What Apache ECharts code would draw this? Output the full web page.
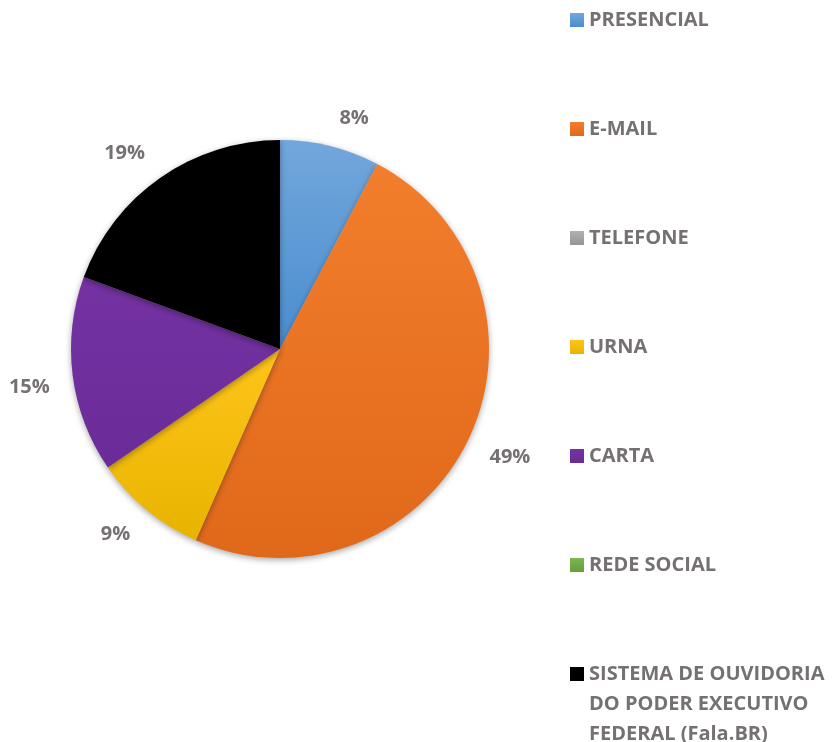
<!DOCTYPE html>
<html>
<head>
<meta charset="utf-8">
<script src="https://cdn.jsdelivr.net/npm/echarts@6/dist/echarts.min.js"></script>
<style>
  html, body { margin: 0; padding: 0; background: #fff; }
  #chart { width: 836px; height: 742px; }
</style>
</head>
<body>
<div id="chart"></div>
<script>
const categories = [
  'PRESENCIAL',
  'E-MAIL',
  'TELEFONE',
  'URNA',
  'CARTA',
  'REDE SOCIAL',
  'SISTEMA DE OUVIDORIA\nDO PODER EXECUTIVO\nFEDERAL (Fala.BR)'
]
// shares (labels show them rounded)
const percentValues = [7.7, 48.9, 0, 8.8, 15.2, 0, 19.4]
// top / bottom colours of each slice gradient
const topColors = ['#72a7db', '#f27e2c', '#b0b0b0', '#ffc51a', '#7432a3', '#7cb653', '#000000']
const bottomColors = ['#4a8dcf', '#e0681a', '#969696', '#e8b400', '#6a2c98', '#63a03c', '#000000']

const textColor = '#767171'
const fontFamily = '"Open Sans", "DejaVu Sans", sans-serif'

const chart = echarts.init(document.getElementById('chart'))

const total = percentValues.reduce((a, b) => a + b, 0)
// mid angle of each slice, clockwise from 12 o'clock
const midAngles = []
let acc = 0
percentValues.forEach(v => {
  midAngles.push((acc + v / 2) / total * Math.PI * 2)
  acc += v
})

const seriesData = categories.map((name, i) => ({
  name: name,
  value: percentValues[i],
  label: { show: percentValues[i] > 0 },
  itemStyle: {
    color: new echarts.graphic.LinearGradient(0, 0, 0, 1, [
      { offset: 0, color: topColors[i] },
      { offset: 1, color: bottomColors[i] }
    ])
  }
}))

const legendText = {
  color: textColor,
  fontFamily: fontFamily,
  fontWeight: 'bold',
  fontSize: 20,
  lineHeight: 18
}

chart.setOption({
  animation: false,
  legend: [
    {
      orient: 'vertical',
      left: 570,
      top: 10,
      padding: 0,
      itemWidth: 14,
      itemHeight: 14,
      itemGap: 89,
      icon: 'rect',
      selectedMode: false,
      data: categories.slice(0, 6),
      textStyle: legendText
    },
    {
      // last entry: first line lines up with the icon
      orient: 'vertical',
      left: 570,
      top: 599,
      padding: 0,
      itemWidth: 14,
      itemHeight: 14,
      icon: 'rect',
      selectedMode: false,
      data: categories.slice(6),
      formatter: name => '\n\n' + name,
      textStyle: Object.assign({}, legendText, { lineHeight: 30 })
    }
  ],
  series: [
    {
      type: 'pie',
      center: [280, 349],
      radius: 209,
      startAngle: 90,
      clockwise: true,
      avoidLabelOverlap: false,
      stillShowZeroSum: false,
      data: seriesData,
      label: {
        position: 'outside',
        formatter: p => Math.round(p.value) + '%',
        color: textColor,
        fontFamily: fontFamily,
        fontWeight: 'bold',
        fontSize: 20
      },
      labelLine: { show: false, length: 18, length2: 0 },
      // corner of the label nearest the pie sits on the mid-angle line
      labelLayout: params => ({
        verticalAlign: Math.cos(midAngles[params.dataIndex]) > 0 ? 'bottom' : 'top'
      }),
      itemStyle: {
        shadowBlur: 6,
        shadowColor: 'rgba(0,0,0,0.35)',
        shadowOffsetY: 2
      },
      emphasis: { disabled: true }
    }
  ]
})
</script>
</body>
</html>
